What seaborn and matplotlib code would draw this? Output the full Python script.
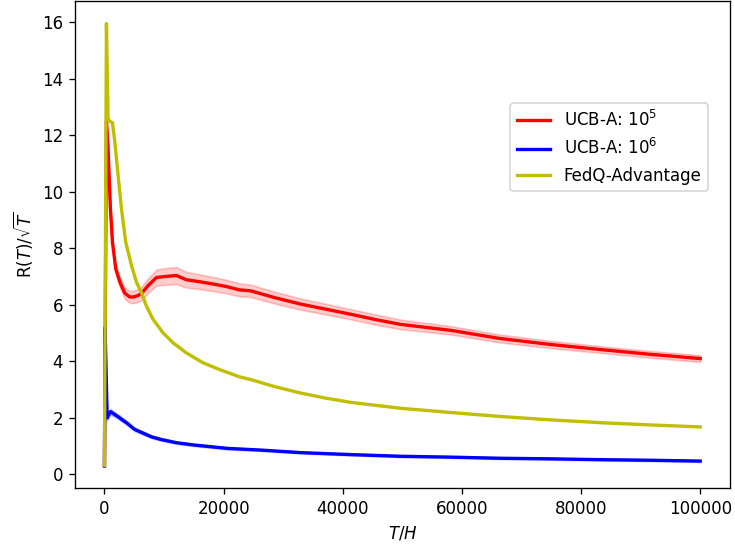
import numpy as np
import matplotlib
matplotlib.use("Agg")
import matplotlib.pyplot as plt
import seaborn as sns

# UCB-A: 10^5 (mean and half-width of the shaded band)
red_t = [0, 330, 600, 770, 1000, 1340, 1900, 2600, 3400, 4240, 4800, 5500, 6200,
         7310, 8720, 10400, 12070, 13750, 15980, 18210, 20460, 22690, 24500,
         28700, 32900, 37100, 41300, 45500, 49700, 58100, 66400, 74800, 83200,
         91600, 100000]
red_val = [0.3, 12.5, 11.55, 10.6, 9.41, 8.22, 7.27, 6.8, 6.42, 6.28, 6.28, 6.32, 6.4,
           6.68, 6.97, 7.01, 7.04, 6.89, 6.82, 6.74, 6.65, 6.53, 6.50,
           6.25, 6.03, 5.85, 5.67, 5.48, 5.31, 5.10, 4.81, 4.60, 4.42,
           4.25, 4.10]
red_err = [0.0, 0.1, 0.12, 0.13, 0.14, 0.15, 0.16, 0.18, 0.2, 0.21, 0.22, 0.23, 0.24,
           0.26, 0.28, 0.3, 0.3, 0.28, 0.26, 0.25, 0.24, 0.23, 0.22,
           0.21, 0.2, 0.19, 0.18, 0.18, 0.17, 0.15, 0.14, 0.13, 0.12,
           0.12, 0.12]

# UCB-A: 10^6
blue_t = [0, 100, 450, 1000, 2280, 3800, 5080, 6600, 7880, 9400, 12070, 15000,
          20600, 26200, 32900, 41300, 49700, 58100, 66400, 74800, 83200, 91600,
          100000]
blue_val = [0.3, 5.2, 2.0, 2.22, 2.04, 1.81, 1.59, 1.45, 1.33, 1.24, 1.12, 1.04,
            0.92, 0.86, 0.77, 0.70, 0.64, 0.61, 0.57, 0.55, 0.52, 0.50,
            0.47]
blue_err = [0.0, 0.1, 0.1, 0.1, 0.08, 0.07, 0.06, 0.06, 0.05, 0.05, 0.04, 0.04,
            0.04, 0.03, 0.03, 0.03, 0.03, 0.03, 0.03, 0.03, 0.03, 0.03,
            0.03]

# FedQ-Advantage
yel_t = [0, 330, 600, 900, 1340, 1730, 2280, 2850, 3570, 4530, 5370, 6200, 7040,
         8150, 9830, 11500, 13750, 16540, 19330, 22690, 24500, 28700, 32900,
         37100, 41300, 49700, 58100, 66400, 74800, 83200, 91600, 100000]
yel_val = [0.32, 15.96, 12.6, 12.5, 12.45, 11.78, 10.6, 9.41, 8.22, 7.4, 6.8, 6.44, 5.96,
           5.49, 5.01, 4.66, 4.30, 3.95, 3.71, 3.45, 3.36, 3.1, 2.88,
           2.7, 2.55, 2.34, 2.19, 2.05, 1.93, 1.83, 1.75, 1.68]

series = [
    ("UCB-A: $10^5$", red_t, red_val, red_err, "r"),
    ("UCB-A: $10^6$", blue_t, blue_val, blue_err, "b"),
    ("FedQ-Advantage", yel_t, yel_val, None, "y"),
]

fig = plt.figure(figsize=(735 / 120, 548 / 120), dpi=120)
ax = fig.add_axes([0.1016, 0.1095, 0.8916, 0.8878])

for label, t, v, err, color in series:
    sns.lineplot(x=t, y=v, color=color, label=label, linewidth=2, ax=ax)
    if err is not None:
        lo = np.array(v) - np.array(err)
        hi = np.array(v) + np.array(err)
        ax.fill_between(t, lo, hi, color=color, alpha=0.2)

ax.set_xlabel("$T/H$")
ax.set_ylabel(r"R($T$)/$\sqrt{T}$")
ax.set_yticks(np.arange(0, 17, 2))
ax.legend(loc="upper right", bbox_to_anchor=(0.9669, 0.7908), borderaxespad=0)

fig.savefig("out.png", dpi=120)
